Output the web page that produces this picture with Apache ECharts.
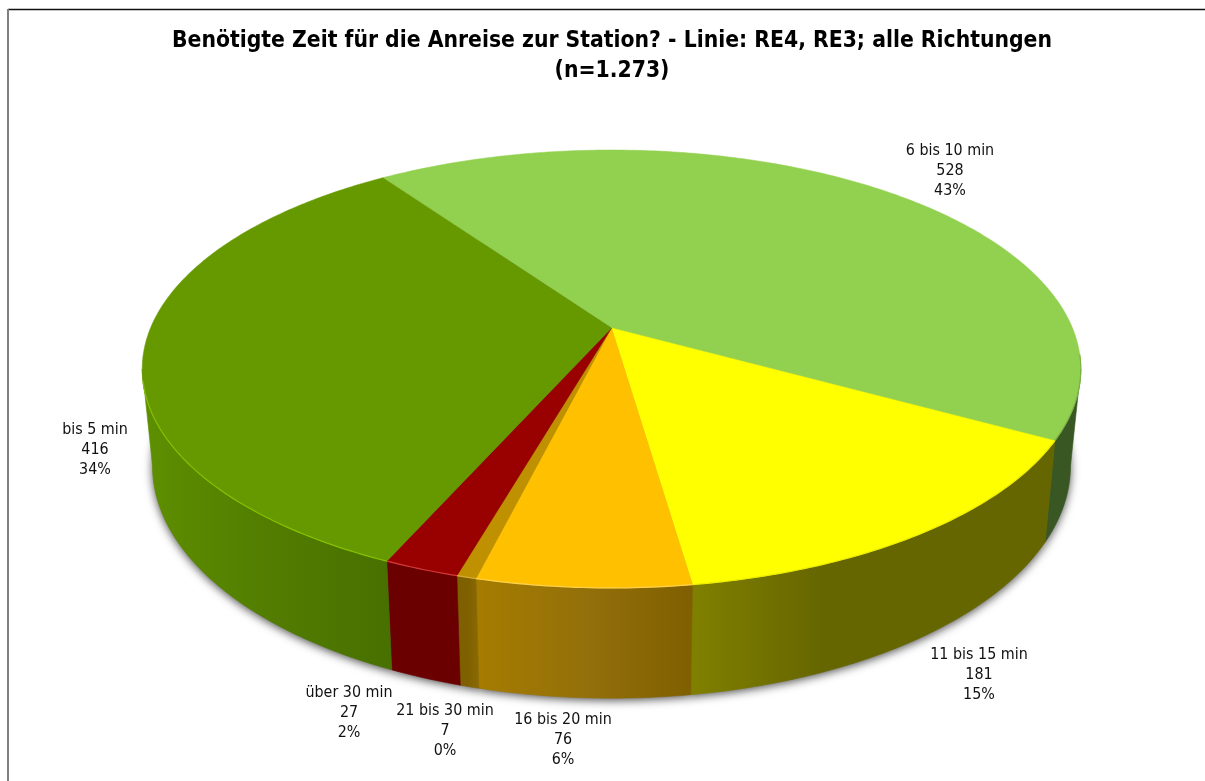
<!DOCTYPE html>
<html>
<head>
<meta charset="utf-8">
<style>html,body{margin:0;padding:0;background:#fff}#c{width:1205px;height:781px}</style>
<script src="https://cdn.jsdelivr.net/npm/echarts@6/dist/echarts.min.js"></script>
</head>
<body>
<div id="c"></div>
<script>
const titleText = 'Benötigte Zeit für die Anreise zur Station? - Linie: RE4, RE3; alle Richtungen\n(n=1.273)';
const categories = ['6 bis 10 min', '11 bis 15 min', '16 bis 20 min', '21 bis 30 min', 'über 30 min', 'bis 5 min'];
const counts = [528, 181, 76, 7, 27, 416];
const percentLabels = ['43%', '15%', '6%', '0%', '2%', '34%'];
const topColors = ['#92D050', '#FFFF00', '#FFC000', '#BF9000', '#990000', '#669900'];
const rimColors = ['#7BB045', '#EDED00', '#FFD24D', '#D8AC30', '#D23A3A', '#86C000'];
const wallColors = [
  ['#385723', '#385723', '#385723'],
  ['#808000', '#666600', '#666600'],
  ['#A67C00', '#93700A', '#7F5F00'],
  ['#7F6000', '#7F6000', '#8A6A00'],
  ['#6B0000', '#6B0000', '#6B0000'],
  ['#5E8F00', '#527D00', '#477000']
];
const labelCentres = [[950, 171], [979, 675], [563, 740], [445, 731], [349, 713], [95, 450]];

/* Perspective projection of the pie disc */
const cx = 611.5, cy = 328, persp = 0.187, radX = 461, radY = 211.3;
const startDeg = -34.9, wallFrom = 100.8, wallTo = 259.2;
const total = counts.reduce((a, b) => a + b, 0);
function topPoint(deg) {
  const r = deg * Math.PI / 180, u = Math.sin(r), v = -Math.cos(r), d = 1 - persp * v;
  return [cx + radX * u / d, cy + radY * v / d];
}
function bottomPoint(deg) {
  const p = topPoint(deg);
  return [cx + (p[0] - cx) * 0.978, p[1] * 1.06 + 75];
}
function arc(fn, a, b) {
  const n = Math.max(2, Math.ceil(Math.abs(b - a) / 0.75)), pts = [];
  for (let i = 0; i <= n; i++) pts.push(fn(a + (b - a) * i / n));
  return pts;
}
function renderSlice(params, api) {
  const i = params.dataIndex, val = api.value(0);
  let before = 0;
  for (let k = 0; k < i; k++) before += counts[k];
  const a0 = startDeg + before / total * 360, a1 = a0 + val / total * 360;
  const children = [];
  const wa = Math.max(a0, wallFrom), wb = Math.min(a1, wallTo);
  const fa = Math.max(a0, 97), fb = Math.min(a1, 256);
  children.push({
    type: 'polygon', z2: 0,
    shape: { points: [[cx, cy + 120]].concat(arc(bottomPoint, a0, a1)) },
    style: { fill: '#888', shadowColor: 'rgba(0,0,0,0.7)', shadowBlur: 10, shadowOffsetY: 2 }
  });
  if (wb > wa) {
    const topEdge = arc(topPoint, wa, wb), botEdge = arc(bottomPoint, wa, wb).reverse();
    const pts = topEdge.concat(botEdge);
    const xs = pts.map(p => p[0]), xa = Math.min.apply(null, xs), xb = Math.max.apply(null, xs);
    const stops = wallColors[i];
    const grad = {
      type: 'linear', x: xa, y: 0, x2: xb, y2: 0, global: true,
      colorStops: [{ offset: 0, color: stops[0] }, { offset: i === 1 ? 0.36 : 0.5, color: stops[1] }, { offset: 1, color: stops[2] }]
    };
    children.push({ type: 'polygon', z2: 1, shape: { points: pts }, style: { fill: grad, stroke: grad, lineWidth: 0.6 } });
  }
  children.push({
    type: 'polygon', z2: 2,
    shape: { points: [[cx, cy]].concat(arc(topPoint, a0, a1)) },
    style: { fill: topColors[i], stroke: topColors[i], lineWidth: 0.5 }
  });
  if (fb > fa) {
    children.push({
      type: 'polyline', z2: 3,
      shape: { points: arc(topPoint, fa, fb) },
      style: { fill: 'none', stroke: rimColors[i], lineWidth: 1.2 }
    });
  }
  children.push({
    type: 'text', z2: 4,
    x: labelCentres[i][0], y: labelCentres[i][1],
    style: {
      text: categories[i] + '\n' + val + '\n' + percentLabels[i],
      fill: '#111', font: '15.9px "DejaVu Sans Condensed", "DejaVu Sans"', lineHeight: 20,
      align: 'center', verticalAlign: 'middle'
    }
  });
  return { type: 'group', children };
}
const chart = echarts.init(document.getElementById('c'), null, { renderer: 'canvas' });
chart.setOption({
  animation: false,
  backgroundColor: '#fff',
  title: {
    text: titleText, left: 607, top: 21, textAlign: 'center',
    textStyle: { fontFamily: '"DejaVu Sans Condensed", "DejaVu Sans"', fontWeight: 'bold', fontSize: 22.7, lineHeight: 30, color: '#000' }
  },
  graphic: [
    { type: 'line', shape: { x1: 8, y1: 9.5, x2: 1205, y2: 9.5 }, style: { stroke: '#111', lineWidth: 1.5 } },
    { type: 'line', shape: { x1: 8, y1: 9, x2: 8, y2: 781 }, style: { stroke: '#7F7F7F', lineWidth: 2 } }
  ],
  series: [{
    type: 'custom',
    coordinateSystem: 'none',
    renderItem: renderSlice,
    silent: true,
    data: categories.map((name, i) => ({ name, value: [counts[i]] }))
  }]
});
</script>
</body>
</html>
